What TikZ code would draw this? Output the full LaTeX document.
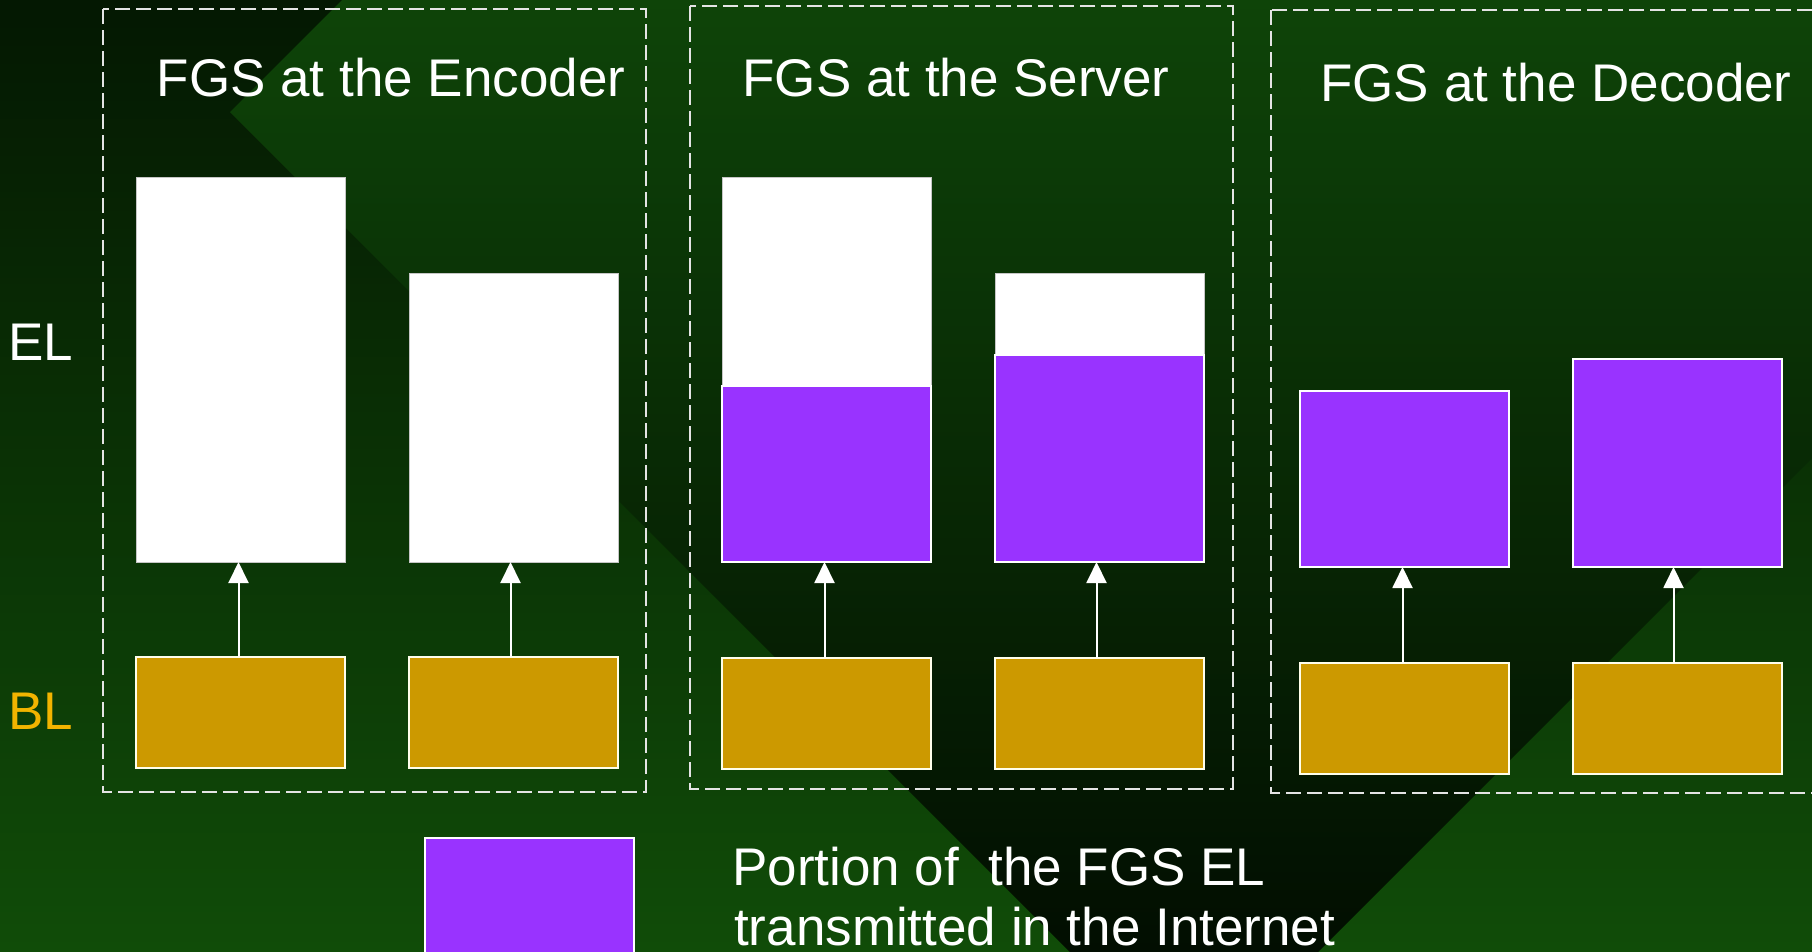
\documentclass[tikz,border=0pt]{standalone}
\usepackage{fontspec}
\setmainfont{Liberation Sans}
\usetikzlibrary{arrows.meta}

\definecolor{bgtop}{RGB}{4,24,2}
\definecolor{bgbot}{RGB}{16,76,8}
\definecolor{vtop}{RGB}{14,68,8}
\definecolor{vbot}{RGB}{2,14,1}
\definecolor{fgspurple}{RGB}{153,51,255}
\definecolor{blgold}{RGB}{204,153,0}
\definecolor{bltext}{RGB}{242,180,0}
\definecolor{framegray}{RGB}{228,228,228}

\tikzset{
  boxbase/.style={inner sep=0pt, outer sep=0pt, anchor=north west, minimum width=209pt},
  elbar/.style={boxbase, fill=white, draw=gray!45, line width=1pt},
  sentbar/.style={boxbase, fill=fgspurple, draw=white, line width=1.6pt},
  blbar/.style={boxbase, fill=blgold, draw=white!92!yellow, line width=1.6pt, minimum height=111pt},
  dashframe/.style={draw=framegray, line width=1.8pt, dash pattern=on 15pt off 6pt},
  upflow/.style={draw=white, line width=2pt, -{Triangle[length=21pt,width=20pt]}},
  txt/.style={text=white, inner sep=0pt, font=\fontsize{53}{62}\selectfont},
}

\begin{document}
\begin{tikzpicture}[x=1pt, y=-1pt]
\useasboundingbox (0,0) rectangle (1812,951);

% background: vertical green gradient with a large tilted square on top
\shade[top color=bgtop, bottom color=bgbot] (0,0) rectangle (1812,951);
\begin{scope}
  \clip (230,112) -- (1194,-852) -- (2158,112) -- (1194,1076) -- cycle;
  \shade[top color=vtop, bottom color=vbot] (0,0) rectangle (1812,951);
\end{scope}

% dashed frames
\draw[dashframe] (103,9) rectangle (646,792);
\draw[dashframe] (690,6) rectangle (1233,789);
\draw[dashframe] (1271,10) rectangle (1840,793);

% titles and layer labels
\node[txt, anchor=base] (tenc) at (391,96) {FGS at the Encoder};
\node[txt, anchor=base] (tsrv) at (956,96) {FGS at the Server};
\node[txt, anchor=base] (tdec) at (1556,101) {FGS at the Decoder};
\node[txt, anchor=base west] (lel) at (8,360) {EL};
\node[txt, anchor=base west, text=bltext] (lbl) at (8,729) {BL};

% encoder
\node[elbar, minimum height=385pt] (e1) at (136,177) {};
\node[elbar, minimum height=289pt] (e2) at (409,273) {};
\node[blbar] (b1) at (136,657) {};
\node[blbar] (b2) at (409,657) {};

% server
\node[elbar, minimum height=385pt] (s1) at (722,177) {};
\node[sentbar, minimum height=176pt] (p1) at (722,386) {};
\node[elbar, minimum height=289pt] (s2) at (995,273) {};
\node[sentbar, minimum height=207pt] (p2) at (995,355) {};
\node[blbar] (b3) at (722,658) {};
\node[blbar] (b4) at (995,658) {};

% decoder
\node[sentbar, minimum height=176pt] (d1) at (1300,391) {};
\node[sentbar, minimum height=208pt] (d2) at (1573,359) {};
\node[blbar] (b5) at (1300,663) {};
\node[blbar] (b6) at (1573,663) {};

% base layer feeds enhancement layer
\draw[upflow] ([xshift=-2pt]b1.north) -- ([xshift=-2pt]e1.south);
\draw[upflow] ([xshift=-3pt]b2.north) -- ([xshift=-3pt]e2.south);
\draw[upflow] ([xshift=-2pt]b3.north) -- ([xshift=-2pt]p1.south);
\draw[upflow] ([xshift=-3pt]b4.north) -- ([xshift=-3pt]p2.south);
\draw[upflow] ([xshift=-2pt]b5.north) -- ([xshift=-2pt]d1.south);
\draw[upflow] ([xshift=-4pt]b6.north) -- ([xshift=-4pt]d2.south);

% legend
\node[sentbar, minimum height=130pt] (key) at (425,838) {};
\node[txt, anchor=base west] (leg1) at (732,885) {Portion of \ the FGS EL};
\node[txt, anchor=base west] (leg2) at (734,945) {transmitted in the Internet};
\end{tikzpicture}
\end{document}
